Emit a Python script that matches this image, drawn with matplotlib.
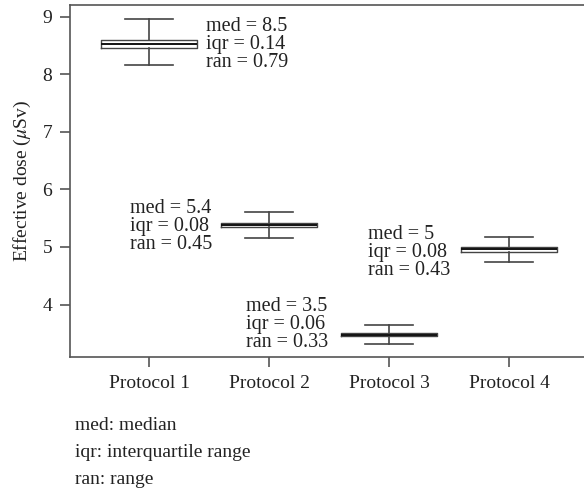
import matplotlib
matplotlib.use('Agg')
import matplotlib.pyplot as plt

plt.rcParams['font.family'] = ['Liberation Serif', 'DejaVu Serif']
plt.rcParams['mathtext.fontset'] = 'stix'

# values
protocols = ['Protocol 1', 'Protocol 2', 'Protocol 3', 'Protocol 4']
med = [8.52, 5.38, 3.48, 4.96]
q1 = [8.45, 5.34, 3.45, 4.92]
q3 = [8.59, 5.42, 3.51, 5.00]
lo = [8.16, 5.16, 3.31, 4.74]
hi = [8.95, 5.61, 3.64, 5.17]
med_txt = ['8.5', '5.4', '3.5', '5']
iqr_txt = ['0.14', '0.08', '0.06', '0.08']
ran_txt = ['0.79', '0.45', '0.33', '0.43']

fig = plt.figure(figsize=(5.84, 4.9), dpi=100)
ax = fig.add_axes([0.12, 0.2714, 0.88, 0.7184])

stats = []
for i in range(4):
    stats.append({'med': med[i], 'q1': q1[i], 'q3': q3[i],
                  'whislo': lo[i], 'whishi': hi[i], 'fliers': []})

gray = '#444444'
ax.bxp(stats, positions=[1, 2, 3, 4], widths=0.8, showfliers=False,
       boxprops=dict(color=gray, linewidth=1.0),
       whiskerprops=dict(color=gray, linewidth=1.2),
       capprops=dict(color=gray, linewidth=1.2),
       capwidths=0.4,
       medianprops=dict(color='#111111', linewidth=1.4))

ax.set_xlim(0.34, 4.625)
ax.set_ylim(3.09, 9.20)
ax.set_xticks([1, 2, 3, 4])
ax.set_xticklabels(protocols)
ax.set_yticks([4, 5, 6, 7, 8, 9])

for s in ['top', 'left', 'bottom']:
    ax.spines[s].set_color('#555555')
    ax.spines[s].set_linewidth(1.2)
ax.spines['right'].set_visible(False)
ax.tick_params(direction='out', length=7, width=1.2, color='#555555',
               labelsize=14, labelcolor='#222222', pad=6)
ax.set_ylabel(r'Effective dose ($\mu$Sv)', fontsize=14, color='#222222', labelpad=7)

# annotation text (left x, middle-line y)
txt_pos = [(1.47, 8.52), (0.84, 5.36), (1.81, 3.65), (2.82, 4.91)]
for i in range(4):
    s = 'med = %s\niqr = %s\nran = %s' % (med_txt[i], iqr_txt[i], ran_txt[i])
    ax.text(txt_pos[i][0], txt_pos[i][1], s, ha='left', va='center',
            fontsize=14.5, linespacing=0.92, color='#222222')

notes = ['med: median', 'iqr: interquartile range', 'ran: range']
for j, n in enumerate(notes):
    fig.text(75 / 584, 1 - (425 + 27 * j) / 490, n, ha='left', va='center',
             fontsize=14, color='#222222')

fig.savefig('out.png', dpi=100)
